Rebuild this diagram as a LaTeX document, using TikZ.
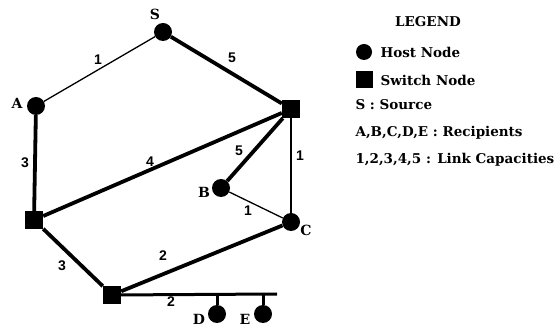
\documentclass[tikz,border=0pt]{standalone}
\usepackage{fontspec}
\setmainfont{DejaVu Serif}
\newfontfamily\edgefont{Liberation Sans}
\begin{document}
\begin{tikzpicture}[x=1pt,y=-1pt,
  host/.style={circle,fill=black,inner sep=0pt,minimum size=18pt},
  switch/.style={rectangle,fill=black,inner sep=0pt,minimum size=18pt},
  thickline/.style={line width=3.8pt},
  thinline/.style={line width=1.3pt},
  nlab/.style={font=\bfseries\fontsize{14}{14}\selectfont},
  elab/.style={font=\edgefont\bfseries\fontsize{14}{14}\selectfont},
  legtext/.style={font=\bfseries\fontsize{13.5}{13.5}\selectfont,anchor=west}]
\useasboundingbox (0,0) rectangle (559,328);
% nodes
\node[host] (S) at (163,32) {};
\node[host] (A) at (36,106) {};
\node[switch] (R) at (291,109) {};
\node[switch] (L) at (34,220) {};
\node[host] (B) at (221,188) {};
\node[host] (C) at (291,222) {};
\node[switch] (M) at (112,295) {};
\node[host] (D) at (217,314) {};
\node[host] (E) at (263,314) {};
\coordinate (busend) at (277,294);
\coordinate (dtop) at (217,294);
\coordinate (etop) at (263,294);
% edges
\draw[thinline] (S) -- (A);
\draw[thickline] (S) -- (R);
\draw[thickline] (A) -- (L);
\draw[thickline] (L) -- (R);
\draw[thickline] (R) -- (B);
\draw[thinline] (R) -- (C);
\draw[thinline] (B) -- (C);
\draw[thickline] (L) -- (M);
\draw[thickline] (M) -- (C);
\draw[line width=3pt] (M.center) -- (busend);
\draw[line width=3pt] (dtop) -- (D);
\draw[line width=3pt] (etop) -- (E);
% node labels
\node[nlab] (lS) at (155,14) {S};
\node[nlab] (lA) at (17,103) {A};
\node[nlab] (lB) at (204,192) {B};
\node[nlab] (lC) at (306,230) {C};
\node[nlab] (lD) at (199,319) {D};
\node[nlab] (lE) at (245,319) {E};
% edge labels
\node[elab] (e1) at (98,60) {1};
\node[elab] (e2) at (232,58) {5};
\node[elab] (e3) at (25,163) {3};
\node[elab] (e4) at (150,162) {4};
\node[elab] (e5) at (239,151) {5};
\node[elab] (e6) at (300,156) {1};
\node[elab] (e7) at (248,211) {1};
\node[elab] (e8) at (62,266) {3};
\node[elab] (e9) at (163,256) {2};
\node[elab] (e10) at (171,302) {2};
% legend
\node[font=\bfseries\fontsize{13.5}{13.5}\selectfont] (leg) at (428,22) {LEGEND};
\node[host,minimum size=16pt] (lh) at (364,52) {};
\node[legtext] (lht) at (377,52) {Host Node};
\node[switch,minimum size=17pt] (ls) at (364,80) {};
\node[legtext] (lst) at (377,80) {Switch Node};
\node[legtext] (l1) at (352,105) {S : Source};
\node[legtext] (l2) at (352,133) {A,B,C,D,E : Recipients};
\node[legtext] (l3) at (352,160) {1,2,3,4,5 : Link Capacities};
\end{tikzpicture}
\end{document}
